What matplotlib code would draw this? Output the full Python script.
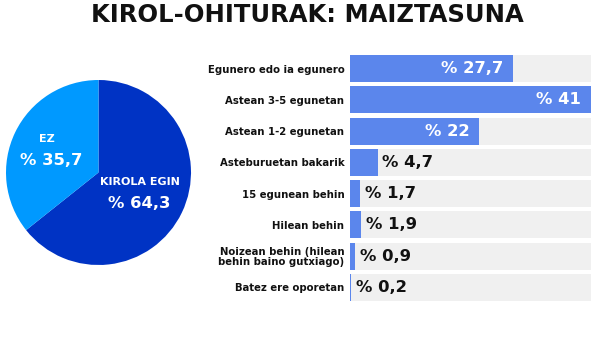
import matplotlib
matplotlib.use("Agg")
import matplotlib.pyplot as plt

title = "KIROL-OHITURAK: MAIZTASUNA"
pie_labels = ["KIROLA EGIN", "EZ"]
pie_values = [64.3, 35.7]
categories = ["Egunero edo ia egunero", "Astean 3-5 egunetan", "Astean 1-2 egunetan",
              "Asteburuetan bakarik", "15 egunean behin", "Hilean behin",
              "Noizean behin (hilean\nbehin baino gutxiago)", "Batez ere oporetan"]
values = [27.7, 41, 22, 4.7, 1.7, 1.9, 0.9, 0.2]

DARK = "#0033c4"
LIGHT = "#0099ff"
BAR = "#5b86ec"
BG = "#f0f0f0"

W, H = 610, 342
fig = plt.figure(figsize=(W / 100, H / 100), dpi=100)
fig.patch.set_facecolor("white")

def fmt(v):
    return "% " + (f"{v:g}").replace(".", ",")

fig.text(307 / W, 1 - 15 / H, title, ha="center", va="center",
         fontsize=17.5, fontweight="bold", family="DejaVu Sans", color="#111111")

# Pie
axp = fig.add_axes([6 / W, 77 / H, 185 / W, 185 / H])
axp.pie(pie_values, colors=[DARK, LIGHT], startangle=90, counterclock=False,
        radius=1.0)
axp.set_xlim(-1, 1)
axp.set_ylim(-1, 1)
axp.set_aspect("equal")
axp.axis("off")
axp.text(-0.56, 0.36, pie_labels[1], ha="center", va="center", color="white",
         fontsize=8, fontweight="bold")
axp.text(-0.51, 0.13, fmt(pie_values[1]), ha="center", va="center", color="white",
         fontsize=11.8, fontweight="bold")
axp.text(0.45, -0.10, pie_labels[0], ha="center", va="center", color="white",
         fontsize=8, fontweight="bold")
axp.text(0.44, -0.33, fmt(pie_values[0]), ha="center", va="center", color="white",
         fontsize=11.8, fontweight="bold")

# Bars
axb = fig.add_axes([350 / W, 41 / H, 241 / W, 246 / H])
n = len(categories)
bh = 0.867
y = list(range(n))
vmax = max(values)
axb.barh(y, [vmax] * n, height=bh, color=BG, zorder=1)
axb.barh(y, values, height=bh, color=BAR, zorder=2)
axb.set_xlim(0, vmax)
axb.set_ylim(n - 1 + bh / 2, -bh / 2)
axb.set_yticks(y)
axb.set_yticklabels(categories, fontsize=7.3, fontweight="bold", color="#111111",
                    linespacing=0.95)
axb.tick_params(axis="y", length=0, pad=4)
axb.set_xticks([])
for s in axb.spines.values():
    s.set_visible(False)

for i, v in enumerate(values):
    if v > 10:
        axb.annotate(fmt(v), (v, i), xytext=(-7, 0), textcoords="offset points",
                     ha="right", va="center", color="white", fontsize=11.8,
                     fontweight="bold", zorder=3)
    else:
        axb.annotate(fmt(v), (v, i), xytext=(3.5, 0), textcoords="offset points",
                     ha="left", va="center", color="#111111", fontsize=11.8,
                     fontweight="bold", zorder=3)

fig.savefig("out.png", dpi=100)
